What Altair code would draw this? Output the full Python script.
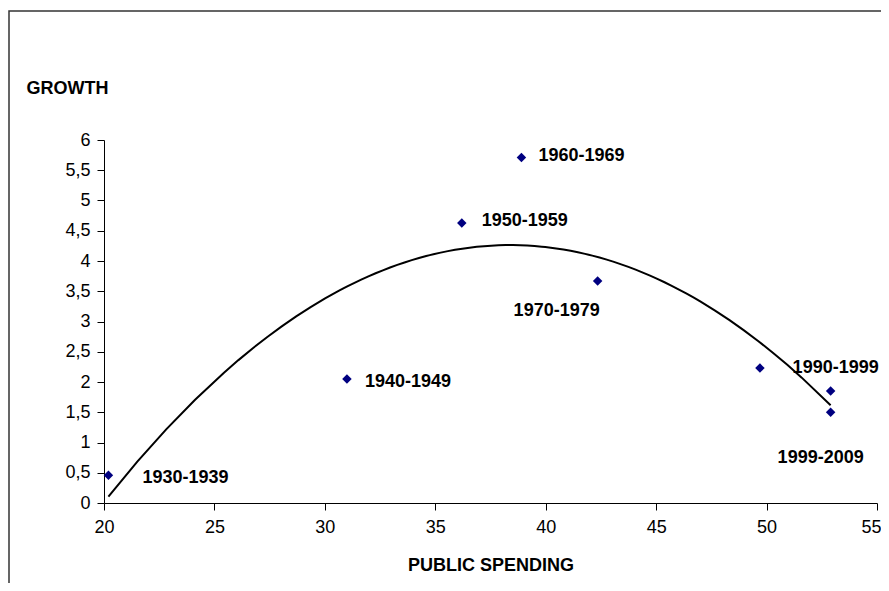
import altair as alt
import pandas as pd

# Data
decades = ["1930-1939", "1940-1949", "1950-1959", "1960-1969",
           "1970-1979", "1980-1989", "1990-1999", "1999-2009"]
spending = [20.2, 31.0, 36.2, 38.9, 42.35, 49.7, 52.9, 52.9]
growth = [0.46, 2.05, 4.63, 5.71, 3.67, 2.23, 1.85, 1.50]
x_ticks = [20, 25, 30, 35, 40, 45, 50, 55]
y_ticks = [0, 0.5, 1, 1.5, 2, 2.5, 3, 3.5, 4, 4.5, 5, 5.5, 6]

df = pd.DataFrame({"decade": decades, "spending": spending, "growth": growth})

FONT = "Liberation Sans"

x_enc = alt.X(
    "spending:Q",
    scale=alt.Scale(domain=[20, 55], nice=False, zero=False),
    axis=alt.Axis(values=x_ticks, title="PUBLIC SPENDING", titleY=62,
                  titleBaseline="middle", labelPadding=8, tickSize=7,
                  grid=False, labelFlush=False,
                  labelAlign={"condition": {"test": "datum.value == 55", "value": "right"},
                              "value": "center"},
                  labelOffset={"condition": {"test": "datum.value == 55", "value": 4},
                               "value": 0}),
)
y_enc = alt.Y(
    "growth:Q",
    scale=alt.Scale(domain=[0, 6], nice=False),
    axis=alt.Axis(values=y_ticks, title="GROWTH", titleAngle=0,
                  titleAlign="left", titleBaseline="middle",
                  titleX=-78, titleY=-52, tickSize=7, labelPadding=7,
                  grid=False, labelFlush=False,
                  labelExpr="replace(toString(datum.value), '.', ',')"),
)

base = alt.Chart(df)

frame = alt.Chart(alt.Data(values=[{}])).mark_rect(
    filled=False, stroke="#333333", strokeWidth=1.5
).encode(x=alt.value(-95), x2=alt.value(900), y=alt.value(-129), y2=alt.value(600))

trend = base.transform_regression(
    "spending", "growth", method="poly", order=2
).mark_line(color="black", strokeWidth=2).encode(x=x_enc, y=y_enc)

points = base.mark_point(
    shape="diamond", filled=True, color="#000080", size=90, opacity=1
).encode(x=x_enc, y=y_enc)

label_offsets = {
    "1930-1939": (34, 3),
    "1940-1949": (18, 3),
    "1950-1959": (20, -2),
    "1960-1969": (17, -2),
    "1970-1979": (-84, 30),
    "1990-1999": (-38, -23),
    "1999-2009": (-53, 46),
}

labels = []
for dec, (dx, dy) in label_offsets.items():
    labels.append(
        base.transform_filter(alt.datum.decade == dec).mark_text(
            align="left", baseline="middle", dx=dx, dy=dy,
            font=FONT, fontSize=18, fontWeight="bold", color="black"
        ).encode(x=x_enc, y=y_enc, text="decade:N")
    )

chart = alt.layer(frame, trend, points, *labels).properties(
    width=773,
    height=363,
    autosize=alt.AutoSizeParams(type="none"),
    padding={"left": 96, "top": 132, "right": 4, "bottom": 80},
).configure_view(strokeWidth=0).configure_axis(
    labelFont=FONT, titleFont=FONT, labelFontSize=18, titleFontSize=18,
    titleFontWeight="bold", labelColor="black", titleColor="black",
    domainColor="black", tickColor="black", domainWidth=1, tickWidth=1,
)

chart.save("out.html", embed_options={"renderer": "svg", "actions": False})
